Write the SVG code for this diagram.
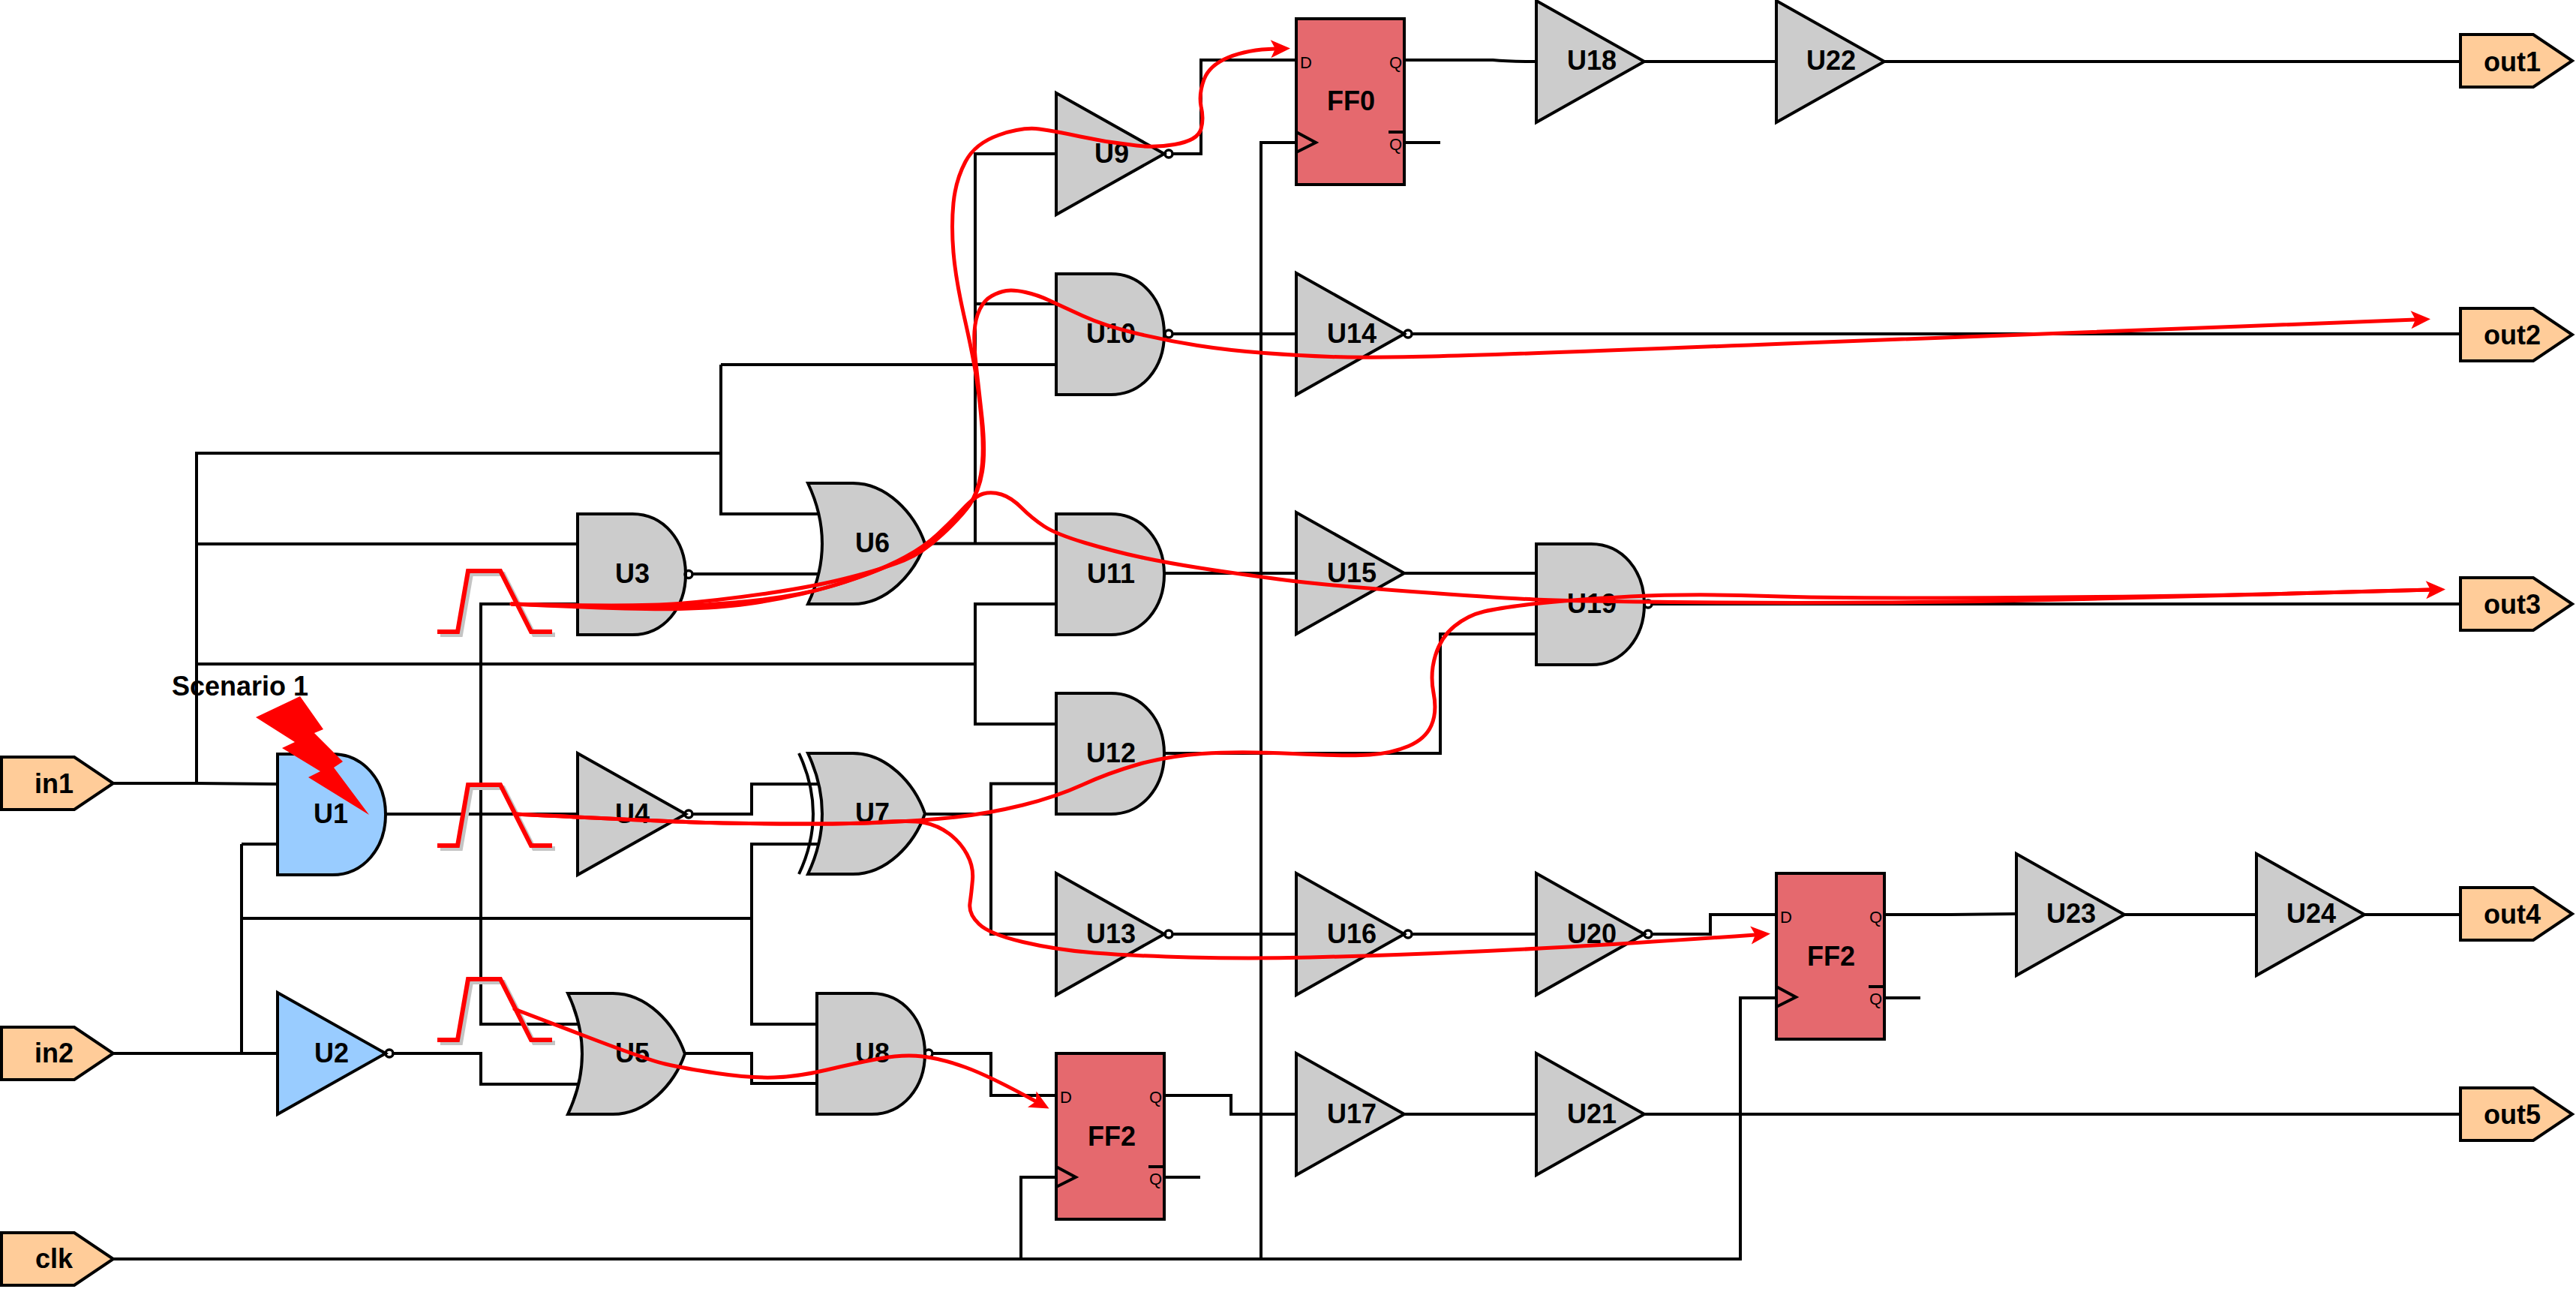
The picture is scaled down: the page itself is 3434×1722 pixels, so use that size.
<svg xmlns="http://www.w3.org/2000/svg" xmlns:xlink="http://www.w3.org/1999/xlink" width="3434" height="1722" viewBox="0 0 3434 1722">
<style>
.w{fill:none;stroke:#000;stroke-width:4;stroke-linejoin:miter}
.s{stroke:#000;stroke-width:4;stroke-linejoin:miter}
.gray{fill:#CCCCCC}.blue{fill:#99CCFF}.ff{fill:#E5696E}.port{fill:#FFCC99}
.bub{fill:none;stroke:#000;stroke-width:3.5}
.t{font-family:"Liberation Sans",Arial,sans-serif;font-weight:700;font-size:36px;text-anchor:middle;fill:#000}
.p{font-family:"Liberation Sans",Arial,sans-serif;font-size:22px;fill:#000}
.e{text-anchor:end}
.r{fill:none;stroke:#FF0000;stroke-width:5;stroke-linejoin:round;stroke-linecap:round}
.ra{marker-end:url(#arr)}
.pulse{fill:none;stroke:#FF0000;stroke-width:6}
.shadow{fill:none;stroke:#C4C4C4;stroke-width:6}
</style>
<defs>
<marker id="arr" markerUnits="userSpaceOnUse" viewBox="0 -13 28 26" refX="6" refY="0" markerWidth="28" markerHeight="26" orient="auto" overflow="visible"><path d="M0 -12 L26 0 L0 12 L6 0 Z" fill="#FF0000"/></marker>
<path id="and" class="s" d="M0 0H73C115 0 144 36 144 80.500C144 125 115 161 73 161H0Z"/>
<path id="or" class="s" d="M0 0H60C105 0 142 40 156 80.500C142 121 105 161 60 161H0Q38 80.500 0 0Z"/>
<path id="buf" class="s" d="M0 0L144 81L0 162Z"/>
<path id="port" class="s" d="M0 0H97L149 35L97 70H0Z"/>
<rect id="ffb" class="s" width="144" height="221"/>
<path id="ck" d="M0 151L26 165L0 178" fill="none" stroke="#000" stroke-width="4"/>
<polyline id="pl" points="583,842 610,842 624,761 667,761 708,842 736,842"/>
</defs>
<rect width="3434" height="1722" fill="#fff"/>
<g id="connectors" class="w">
<path d="M151 1044H262L370 1045"/>
<path d="M262 1044V604H961V685H1095"/>
<path d="M961 486H1408"/>
<path d="M961 486V604"/>
<path d="M262 725H770"/>
<path d="M262 885H1300"/>
<path d="M322 1125H370"/>
<path d="M322 1404V1125"/>
<path d="M322 1224H1002"/>
<path d="M151 1404H370"/>
<path d="M513 1085H770"/>
<path d="M522 1404H641V1445H775"/>
<path d="M770 805H641V1365H775"/>
<path d="M923 765H1096"/>
<path d="M923 1085H1002V1045H1090"/>
<path d="M1233 724.500H1408"/>
<path d="M1300 724.500V205H1408"/>
<path d="M1300 405H1408"/>
<path d="M1408 805H1300V965H1408"/>
<path d="M1233 1085H1321"/>
<path d="M1408 1044.500H1321V1245H1408"/>
<path d="M1090 1125H1002V1365H1088"/>
<path d="M913 1404H1002V1444H1088"/>
<path d="M1243 1404H1321V1460H1408"/>
<path d="M1563 205H1601V80H1728"/>
<path d="M1872 80H1990Q2010 82 2048 82"/>
<path d="M1872 190H1920"/>
<path d="M151 1678H2320V1330H2368"/>
<path d="M1681 1678V190H1728"/>
<path d="M1361 1678V1569H1408"/>
<path d="M1563 445H1728"/>
<path d="M1882 445H3280"/>
<path d="M1553 764H1728"/>
<path d="M1872 764H2048"/>
<path d="M1553 1004H1920V845H2048"/>
<path d="M2202 805H3280"/>
<path d="M1563 1245H1728"/>
<path d="M1882 1245H2048"/>
<path d="M2202 1245H2280V1219H2368"/>
<path d="M2512 1219H2600L2688 1218"/>
<path d="M2512 1330H2560"/>
<path d="M2830 1219H3008"/>
<path d="M3150 1219H3280"/>
<path d="M1553 1460H1641V1485H1728"/>
<path d="M1553 1569H1600"/>
<path d="M1872 1485H2048"/>
<path d="M2192 1485H3280"/>
<path d="M2192 82H2368"/>
<path d="M2510 82H3280"/>
</g>
<g id="in1" transform="translate(2,1009)"><use href="#port" class="port"/><text class="t" x="70" y="48">in1</text></g>
<g id="in2" transform="translate(2,1369)"><use href="#port" class="port"/><text class="t" x="70" y="47">in2</text></g>
<g id="clk" transform="translate(2,1643)"><use href="#port" class="port"/><text class="t" x="70" y="47">clk</text></g>
<g id="out1" transform="translate(3280,46)"><use href="#port" class="port"/><text class="t" x="69" y="49">out1</text></g>
<g id="out2" transform="translate(3280,411)"><use href="#port" class="port"/><text class="t" x="69" y="48">out2</text></g>
<g id="out3" transform="translate(3280,770)"><use href="#port" class="port"/><text class="t" x="69" y="48">out3</text></g>
<g id="out4" transform="translate(3280,1183)"><use href="#port" class="port"/><text class="t" x="69" y="48">out4</text></g>
<g id="out5" transform="translate(3280,1450)"><use href="#port" class="port"/><text class="t" x="69" y="48">out5</text></g>
<g id="U1" transform="translate(370,1005)"><use href="#and" class="blue"/><text class="t" x="71" y="92">U1</text></g>
<g id="U2" transform="translate(370,1323)"><use href="#buf" class="blue"/><circle class="bub" cx="149" cy="81" r="5"/><text class="t" x="72" y="93">U2</text></g>
<g id="U3" transform="translate(770,685)"><use href="#and" class="gray"/><circle class="bub" cx="148" cy="80.500" r="5"/><text class="t" x="73" y="92">U3</text></g>
<g id="U4" transform="translate(770,1004)"><use href="#buf" class="gray"/><circle class="bub" cx="148" cy="81" r="5"/><text class="t" x="73" y="93">U4</text></g>
<g id="U5" transform="translate(757,1324)"><use href="#or" class="gray"/><text class="t" x="86" y="92">U5</text></g>
<g id="U6" transform="translate(1077,644)"><use href="#or" class="gray"/><text class="t" x="86" y="92">U6</text></g>
<g id="U7" transform="translate(1077,1004)"><use href="#or" class="gray"/><path d="M-12 0Q26 80.500 -12 161" fill="none" stroke="#000" stroke-width="4"/><text class="t" x="86" y="92">U7</text></g>
<g id="U8" transform="translate(1089,1324)"><use href="#and" class="gray"/><circle class="bub" cx="149" cy="80" r="5"/><text class="t" x="74" y="92">U8</text></g>
<g id="U9" transform="translate(1408,124)"><use href="#buf" class="gray"/><circle class="bub" cx="150" cy="81" r="5"/><text class="t" x="74" y="93">U9</text></g>
<g id="U10" transform="translate(1408,365)"><use href="#and" class="gray"/><circle class="bub" cx="150" cy="80" r="5"/><text class="t" x="73" y="92">U10</text></g>
<g id="U11" transform="translate(1408,685)"><use href="#and" class="gray"/><text class="t" x="73" y="92">U11</text></g>
<g id="U12" transform="translate(1408,924)"><use href="#and" class="gray"/><text class="t" x="73" y="92">U12</text></g>
<g id="U13" transform="translate(1408,1164)"><use href="#buf" class="gray"/><circle class="bub" cx="150" cy="81" r="5"/><text class="t" x="73" y="93">U13</text></g>
<g id="U14" transform="translate(1728,364)"><use href="#buf" class="gray"/><circle class="bub" cx="149" cy="81" r="5"/><text class="t" x="74" y="93">U14</text></g>
<g id="U15" transform="translate(1728,683)"><use href="#buf" class="gray"/><text class="t" x="74" y="93">U15</text></g>
<g id="U16" transform="translate(1728,1164)"><use href="#buf" class="gray"/><circle class="bub" cx="149" cy="81" r="5"/><text class="t" x="74" y="93">U16</text></g>
<g id="U17" transform="translate(1728,1404)"><use href="#buf" class="gray"/><text class="t" x="74" y="93">U17</text></g>
<g id="U18" transform="translate(2048,1)"><use href="#buf" class="gray"/><text class="t" x="74" y="92">U18</text></g>
<g id="U19" transform="translate(2048,725)"><use href="#and" class="gray"/><circle class="bub" cx="149" cy="80" r="5"/><text class="t" x="74" y="92">U19</text></g>
<g id="U20" transform="translate(2048,1164)"><use href="#buf" class="gray"/><circle class="bub" cx="149" cy="81" r="5"/><text class="t" x="74" y="93">U20</text></g>
<g id="U21" transform="translate(2048,1404)"><use href="#buf" class="gray"/><text class="t" x="74" y="93">U21</text></g>
<g id="U22" transform="translate(2368,1)"><use href="#buf" class="gray"/><text class="t" x="73" y="92">U22</text></g>
<g id="U23" transform="translate(2688,1138)"><use href="#buf" class="gray"/><text class="t" x="73" y="92">U23</text></g>
<g id="U24" transform="translate(3008,1138)"><use href="#buf" class="gray"/><text class="t" x="73" y="92">U24</text></g>
<g id="FF0" transform="translate(1728,25)"><use href="#ffb" class="ff"/><use href="#ck"/><path d="M123 151H142" stroke="#000" stroke-width="4"/><text class="t" x="73" y="122">FF0</text><text class="p" x="5" y="66">D</text><text class="p e" x="141" y="66">Q</text><text class="p e" x="141" y="175">Q</text></g>
<g id="FF2a" transform="translate(1408,1404)"><use href="#ffb" class="ff"/><use href="#ck"/><path d="M123 151H142" stroke="#000" stroke-width="4"/><text class="t" x="74" y="123">FF2</text><text class="p" x="5" y="66">D</text><text class="p e" x="141" y="66">Q</text><text class="p e" x="141" y="175">Q</text></g>
<g id="FF2b" transform="translate(2368,1164)"><use href="#ffb" class="ff"/><use href="#ck"/><path d="M123 151H142" stroke="#000" stroke-width="4"/><text class="t" x="73" y="123">FF2</text><text class="p" x="5" y="66">D</text><text class="p e" x="141" y="66">Q</text><text class="p e" x="141" y="175">Q</text></g>
<g id="scenario"><polygon points="341,956 400,928 431,972 419,977 457,1015 445,1023 492,1086 411,1036 427,1028 376,997 393,989" fill="#FF0000"/><text class="t" x="320" y="927">Scenario 1</text></g>
<g id="pulses">
<use href="#pl" class="shadow" transform="translate(4,4)"/><use href="#pl" class="pulse"/>
<use href="#pl" class="shadow" transform="translate(4,289)"/><use href="#pl" class="pulse" transform="translate(0,285)"/>
<use href="#pl" class="shadow" transform="translate(4,548)"/><use href="#pl" class="pulse" transform="translate(0,544)"/>
</g>
<g id="traces">
<path class="r ra" d="M682 805Q850 809 905 804.500Q960 800 1025 790.500Q1090 781 1135 769Q1180 757 1205 747Q1230 737 1255.500 713Q1281 689 1292 673.500Q1303 658 1307.500 632.500Q1312 607 1309 568.500Q1306 530 1301 499.500Q1296 469 1285 420.500Q1274 372 1271 336.500Q1268 301 1271 270.500Q1274 240 1287 215.500Q1300 191 1331.500 180Q1363 169 1385.500 172Q1408 175 1440 182Q1472 189 1504 192.500Q1536 198 1566 192.500Q1597 187 1601 172Q1605 158 1601 141.500Q1598 125 1605 106Q1612 87 1637.500 76.500Q1663 66 1700 65"/>
<path class="r ra" d="M682 805Q850 813 905 811.500Q960 810 996 805Q1032 800 1071 791Q1110 782 1145 769.500Q1180 757 1206.500 743.500Q1233 730 1257 709.500Q1281 689 1293 672Q1305 655 1309.500 628.500Q1314 602 1309 556Q1304 510 1301 484.500Q1298 459 1299 442Q1300 425 1306 412.500Q1312 400 1322 394.500Q1332 389 1341.500 387.500Q1351 386 1367 389.500Q1383 393 1399 400.500Q1415 408 1443.500 421Q1472 434 1513.500 444Q1555 454 1596.500 460.500Q1638 467 1685.500 470.500Q1733 474 1774.500 475.500Q1816 477 1908 475Q2000 473 2380 458Q2759 444 2987 435L3220 426"/>
<path class="r ra" d="M682 805Q850 811 905 808Q960 805 996 801.500Q1032 798 1066 791.500Q1100 785 1140 771Q1180 757 1206.500 742.500Q1233 728 1250.500 711.500Q1268 695 1284 678Q1300 661 1311 658Q1322 655 1335 659Q1348 663 1362 677Q1376 691 1392 701.500Q1408 712 1446.500 723.500Q1485 735 1520 742.500Q1555 750 1599.500 757Q1644 764 1704.500 772Q1765 780 1882.500 788.500Q2000 797 2045.500 799Q2091 801 2228.500 802.500Q2366 804 2503 803Q2640 802 2777.500 798.500Q2915 795 3075 790.500L3240 786"/>
<path class="r" d="M686 1085Q893 1095 946.500 1096.500Q1000 1098 1064 1098Q1128 1098.500 1179 1096Q1230 1094 1274.500 1089Q1319 1084 1363.500 1073Q1408 1062 1443 1046Q1478 1030 1516.500 1019Q1555 1008 1602.500 1004.500Q1650 1001 1723.500 1004.500Q1797 1008 1826 1006Q1855 1004 1877.500 994.500Q1900 985 1908 967Q1916 949 1911 923.500Q1906 898 1913.500 873.500Q1921 849 1939 834.500Q1957 820 1978.500 815Q2000 810 2045.500 804.750Q2091 799.500 2173.500 795Q2256 791 2356.500 794.500Q2457 798 2686 796.500Q2915 795 3075 790.500L3240 786"/>
<path class="r ra" d="M686 1085Q893 1095 946.500 1096.500Q1000 1098 1064 1098Q1128 1098.500 1171.500 1096Q1215 1093 1232.500 1096.500Q1250 1100 1265 1111Q1280 1122 1289 1138.500Q1298 1155 1296.500 1172.500Q1295 1190 1293 1204Q1291 1218 1305 1231.500Q1319 1245 1363.500 1255.500Q1408 1266 1459 1270Q1510 1274 1586.500 1276Q1663 1278 1746 1276Q1829 1274 1914.500 1270.500Q2000 1267 2091.500 1262Q2183 1257 2340 1246"/>
<path class="r ra" d="M686 1345L775 1379Q861 1412 886.500 1418Q912 1424 956 1430.500Q1000 1437 1032 1436Q1064 1435 1102 1426Q1140 1417 1172 1411Q1204 1405 1229.500 1408Q1255 1411 1287 1422.500Q1319 1434 1381 1468"/>
</g>
</svg>
